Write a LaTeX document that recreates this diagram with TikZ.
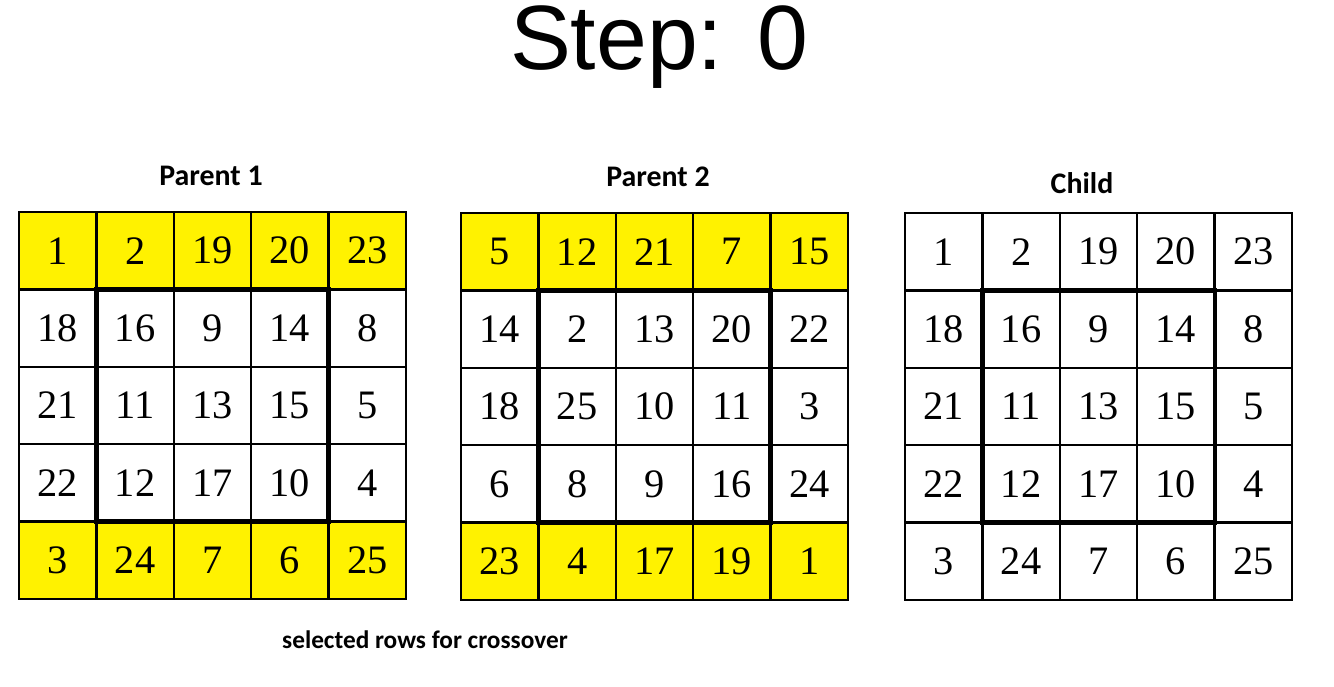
\documentclass[tikz,border=0pt]{standalone}
\usepackage{fontspec}
\setmainfont{Liberation Serif}
\newfontfamily\headfont{Carlito}
\newfontfamily\stepfont{Liberation Sans}
\definecolor{hlyellow}{RGB}{255,242,0}
\newcommand{\numfont}{\fontsize{23}{27}\selectfont}
\tikzset{
  cell/.style={draw, line width=1.4pt, minimum size=1.548cm, inner sep=0pt, outer sep=0pt, font=\numfont},
  core/.style={draw, line width=2.4pt},
  title/.style={anchor=base, font=\headfont\bfseries\fontsize{17}{20}\selectfont}
}
\begin{document}
\begin{tikzpicture}[x=0.02cm, y=-0.02cm]
    \useasboundingbox (0,0) rectangle (1334,686);
    \node[anchor=base, font=\stepfont\fontsize{52}{62}\selectfont] (step) at (659,70) {Step: 0};

    % parent 1
    \node[title] (p1title) at (211,185) {Parent 1};
    \foreach \row/\fc [count=\r] in {{1,2,19,20,23}/hlyellow, {18,16,9,14,8}/white, {21,11,13,15,5}/white, {22,12,17,10,4}/white, {3,24,7,6,25}/hlyellow}
        \foreach \v [count=\c] in \row
            \node[cell, fill=\fc] (p1-\r-\c) at ({19+77.4*(\c-0.5)},{212+77.4*(\r-0.5)}) {\v};
    \draw[core] (p1-2-2.north west) rectangle (p1-4-4.south east);

    % parent 2
    \node[title] (p2title) at (658,186) {Parent 2};
    \foreach \row/\fc [count=\r] in {{5,12,21,7,15}/hlyellow, {14,2,13,20,22}/white, {18,25,10,11,3}/white, {6,8,9,16,24}/white, {23,4,17,19,1}/hlyellow}
        \foreach \v [count=\c] in \row
            \node[cell, fill=\fc] (p2-\r-\c) at ({461+77.4*(\c-0.5)},{213+77.4*(\r-0.5)}) {\v};
    \draw[core] (p2-2-2.north west) rectangle (p2-4-4.south east);

    % child
    \node[title] (chtitle) at (1082,193) {Child};
    \foreach \row [count=\r] in {{1,2,19,20,23}, {18,16,9,14,8}, {21,11,13,15,5}, {22,12,17,10,4}, {3,24,7,6,25}}
        \foreach \v [count=\c] in \row
            \node[cell, fill=white] (ch-\r-\c) at ({905+77.4*(\c-0.5)},{213+77.4*(\r-0.5)}) {\v};
    \draw[core] (ch-2-2.north west) rectangle (ch-4-4.south east);

    \node[anchor=base, font=\headfont\bfseries\fontsize{14.4}{17}\selectfont] (caption) at (425,648) {selected rows for crossover};
\end{tikzpicture}
\end{document}
